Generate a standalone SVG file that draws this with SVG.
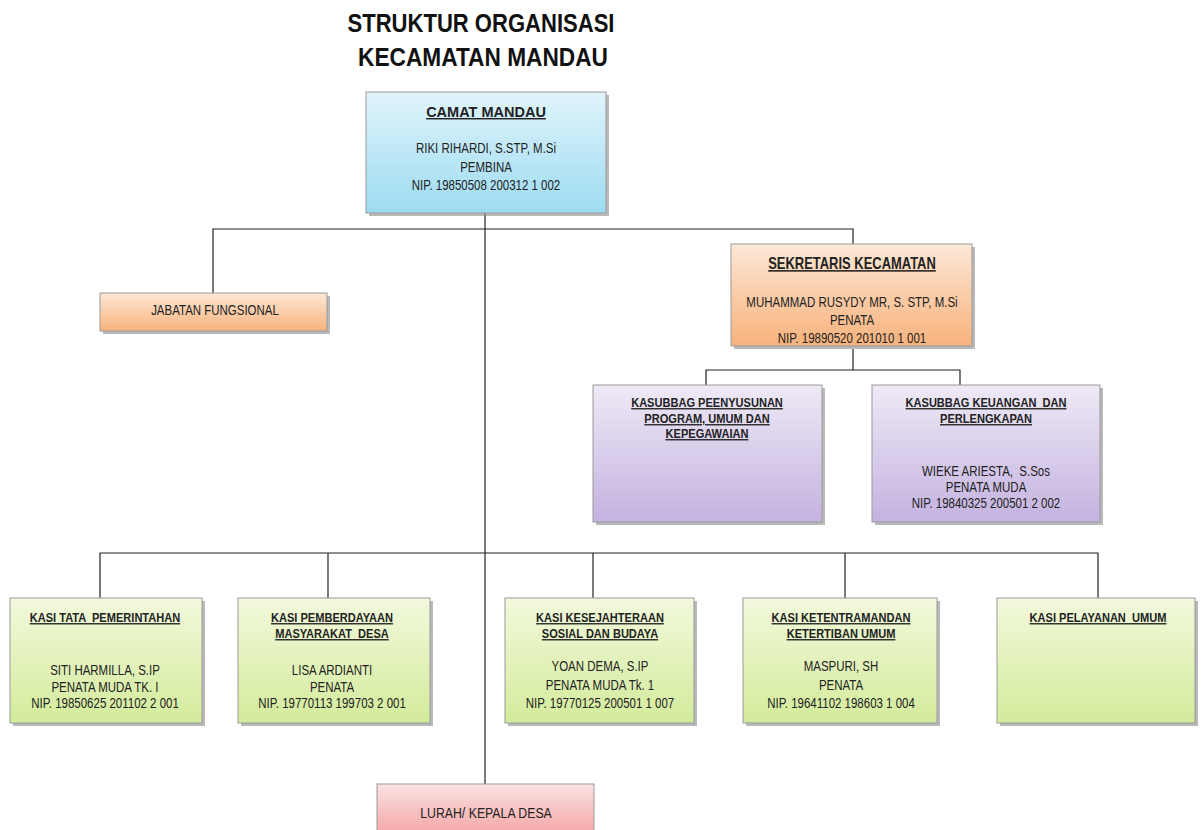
<svg xmlns="http://www.w3.org/2000/svg" width="1204" height="830" viewBox="0 0 1204 830">
<defs>
<linearGradient id="gBlue" x1="0" y1="0" x2="0" y2="1"><stop offset="0" stop-color="#e0f4fb"/><stop offset="1" stop-color="#9ddbf2"/></linearGradient>
<linearGradient id="gOrange" x1="0" y1="0" x2="0" y2="1"><stop offset="0" stop-color="#fde8d6"/><stop offset="1" stop-color="#f7b27c"/></linearGradient>
<linearGradient id="gPurple" x1="0" y1="0" x2="0" y2="1"><stop offset="0" stop-color="#eee9f6"/><stop offset="1" stop-color="#c4b2e0"/></linearGradient>
<linearGradient id="gGreen" x1="0" y1="0" x2="0" y2="1"><stop offset="0" stop-color="#f2f9dc"/><stop offset="1" stop-color="#d3eb9b"/></linearGradient>
<linearGradient id="gPink" x1="0" y1="0" x2="0" y2="1"><stop offset="0" stop-color="#fbe2e2"/><stop offset="1" stop-color="#f4a6a6"/></linearGradient>
</defs>
<style>
text{font-family:"Liberation Sans",Arial,sans-serif;fill:#222;text-anchor:middle;font-size:14px;white-space:pre}
.t{font-weight:bold;text-decoration:underline;font-size:13.5px}
.h{font-size:25px;font-weight:bold;fill:#111}
.box{stroke:#9a9a9a;stroke-width:1}
.sh{fill:#8a8a8a;opacity:0.6}
.c{stroke:#222;stroke-width:1.2;fill:none}
</style>
<g id="title">
<text class="h" x="481" y="32" textLength="267" lengthAdjust="spacingAndGlyphs">STRUKTUR ORGANISASI</text>
<text class="h" x="483" y="66" textLength="250" lengthAdjust="spacingAndGlyphs">KECAMATAN MANDAU</text>
</g>
<g id="connectors">
<path class="c" d="M485 213 V784"/>
<path class="c" d="M213 293 V229 H853 V244"/>
<path class="c" d="M853 349 V370"/>
<path class="c" d="M706 385 V370 H960 V385"/>
<path class="c" d="M100 598 V553 H1098 V598"/>
<path class="c" d="M328 553 V598"/>
<path class="c" d="M593 553 V598"/>
<path class="c" d="M845 553 V598"/>
</g>
<g id="camat">
<rect class="sh" x="369" y="95" width="240" height="121"/>
<rect class="box" x="366" y="92" width="240" height="121" fill="url(#gBlue)"/>
<text x="486" y="117" style="font-weight:bold;text-decoration:underline;font-size:14.5px">CAMAT MANDAU</text>
<g transform="matrix(0.82 0 0 1 486 0)">
<text x="0" y="153">RIKI RIHARDI, S.STP, M.Si</text>
<text x="0" y="172">PEMBINA</text>
<text x="0" y="190">NIP. 19850508 200312 1 002</text>
</g>
</g>
<g id="jabatan">
<rect class="sh" x="103" y="296" width="227" height="38"/>
<rect class="box" x="100" y="293" width="227" height="38" fill="url(#gOrange)"/>
<text x="0" y="315" transform="matrix(0.82 0 0 1 215 0)">JABATAN FUNGSIONAL</text>
</g>
<g id="sekretaris">
<rect class="sh" x="734" y="247" width="241" height="102"/>
<rect class="box" x="731" y="244" width="241" height="102" fill="url(#gOrange)"/>
<g transform="matrix(0.82 0 0 1 852 0)">
<text class="t" x="0" y="269" style="font-size:15.8px">SEKRETARIS KECAMATAN</text>
<text x="0" y="307">MUHAMMAD RUSYDY MR, S. STP, M.Si</text>
<text x="0" y="325">PENATA</text>
<text x="0" y="343">NIP. 19890520 201010 1 001</text>
</g>
</g>
<g id="kasubbag-program">
<rect class="sh" x="596" y="388" width="229" height="137"/>
<rect class="box" x="593" y="385" width="229" height="137" fill="url(#gPurple)"/>
<g transform="matrix(0.82 0 0 1 707 0)">
<text class="t" x="0" y="407">KASUBBAG PEENYUSUNAN</text>
<text class="t" x="0" y="423">PROGRAM, UMUM DAN</text>
<text class="t" x="0" y="438">KEPEGAWAIAN</text>
</g>
</g>
<g id="kasubbag-keuangan">
<rect class="sh" x="875" y="388" width="228" height="137"/>
<rect class="box" x="872" y="385" width="228" height="137" fill="url(#gPurple)"/>
<g transform="matrix(0.82 0 0 1 986 0)">
<text class="t" x="0" y="407">KASUBBAG KEUANGAN  DAN</text>
<text class="t" x="0" y="423">PERLENGKAPAN</text>
<text x="0" y="476">WIEKE ARIESTA,  S.Sos</text>
<text x="0" y="492">PENATA MUDA</text>
<text x="0" y="508">NIP. 19840325 200501 2 002</text>
</g>
</g>
<g id="kasi-pemerintahan">
<rect class="sh" x="13" y="601" width="192" height="125"/>
<rect class="box" x="10" y="598" width="192" height="125" fill="url(#gGreen)"/>
<g transform="matrix(0.82 0 0 1 105 0)">
<text class="t" x="0" y="622">KASI TATA  PEMERINTAHAN</text>
<text x="0" y="675">SITI HARMILLA, S.IP</text>
<text x="0" y="692">PENATA MUDA TK. I</text>
<text x="0" y="708">NIP. 19850625 201102 2 001</text>
</g>
</g>
<g id="kasi-pemberdayaan">
<rect class="sh" x="241" y="601" width="192" height="125"/>
<rect class="box" x="238" y="598" width="192" height="125" fill="url(#gGreen)"/>
<g transform="matrix(0.82 0 0 1 332 0)">
<text class="t" x="0" y="622">KASI PEMBERDAYAAN</text>
<text class="t" x="0" y="638">MASYARAKAT  DESA</text>
<text x="0" y="675">LISA ARDIANTI</text>
<text x="0" y="692">PENATA</text>
<text x="0" y="708">NIP. 19770113 199703 2 001</text>
</g>
</g>
<g id="kasi-kesejahteraan">
<rect class="sh" x="508" y="601" width="189" height="125"/>
<rect class="box" x="505" y="598" width="189" height="125" fill="url(#gGreen)"/>
<g transform="matrix(0.82 0 0 1 600 0)">
<text class="t" x="0" y="622">KASI KESEJAHTERAAN</text>
<text class="t" x="0" y="638">SOSIAL DAN BUDAYA</text>
<text x="0" y="671">YOAN DEMA, S.IP</text>
<text x="0" y="690">PENATA MUDA Tk. 1</text>
<text x="0" y="708">NIP. 19770125 200501 1 007</text>
</g>
</g>
<g id="kasi-ketentraman">
<rect class="sh" x="746" y="601" width="194" height="125"/>
<rect class="box" x="743" y="598" width="194" height="125" fill="url(#gGreen)"/>
<g transform="matrix(0.82 0 0 1 841 0)">
<text class="t" x="0" y="622">KASI KETENTRAMANDAN</text>
<text class="t" x="0" y="638">KETERTIBAN UMUM</text>
<text x="0" y="671">MASPURI, SH</text>
<text x="0" y="690">PENATA</text>
<text x="0" y="708">NIP. 19641102 198603 1 004</text>
</g>
</g>
<g id="kasi-pelayanan">
<rect class="sh" x="1000" y="601" width="198" height="125"/>
<rect class="box" x="997" y="598" width="198" height="125" fill="url(#gGreen)"/>
<text class="t" x="0" y="622" transform="matrix(0.82 0 0 1 1098 0)">KASI PELAYANAN  UMUM</text>
</g>
<g id="lurah">
<rect class="box" x="377" y="784" width="217" height="50" fill="url(#gPink)"/>
<text x="0" y="818" transform="matrix(0.82 0 0 1 486 0)" style="font-size:15px">LURAH/ KEPALA DESA</text>
</g>
</svg>
